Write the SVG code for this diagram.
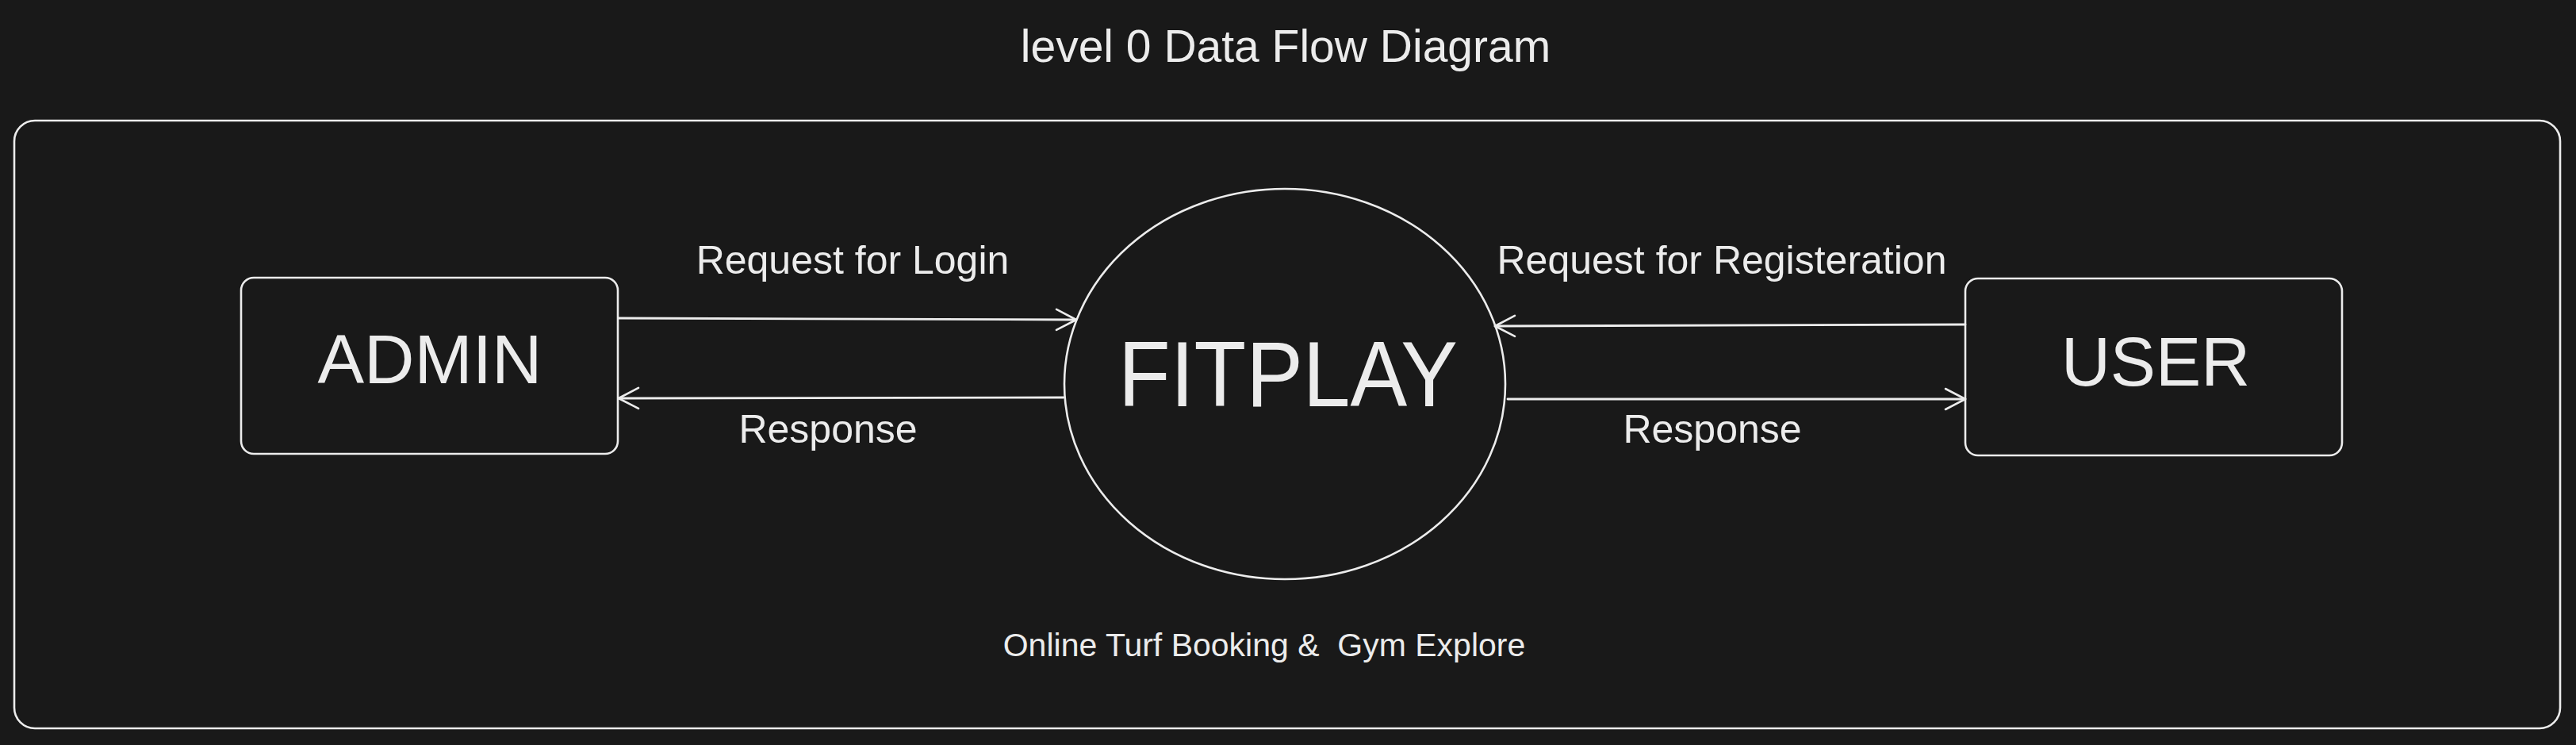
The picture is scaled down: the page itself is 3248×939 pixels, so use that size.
<svg xmlns="http://www.w3.org/2000/svg" width="3248" height="939" viewBox="0 0 3248 939">
<style>
.bg{fill:#191919}
.shape{fill:none;stroke:#ececec;stroke-width:2.6;stroke-linejoin:round;stroke-linecap:round}
.conn{fill:none;stroke:#ececec;stroke-width:2.8;stroke-linecap:round}
.t{fill:#ececec;font-family:"Liberation Sans",Arial,sans-serif;text-anchor:middle}
</style>
<defs>
<marker id="arr" markerUnits="userSpaceOnUse" markerWidth="32" markerHeight="32" refX="28" refY="16" orient="auto" overflow="visible">
<path d="M3,3 L28,16 L3,29" fill="none" stroke="#ececec" stroke-width="2.6" stroke-linecap="round" stroke-linejoin="round"/>
</marker>
</defs>
<rect class="bg" x="0" y="0" width="3248" height="939"/>
<g id="title">
<text class="t" x="1621" y="78" font-size="57">level 0 Data Flow Diagram</text>
</g>
<g id="frame">
<rect class="shape" x="18" y="152" width="3210" height="766" rx="26" ry="26" stroke-width="3"/>
</g>
<g id="admin">
<rect class="shape" x="304" y="350" width="475" height="222" rx="16" ry="16"/>
<text class="t" x="542" y="483" font-size="88" textLength="283" lengthAdjust="spacingAndGlyphs">ADMIN</text>
</g>
<g id="fitplay">
<ellipse class="shape" cx="1620" cy="484" rx="278" ry="246" stroke-width="2.2"/>
<text class="t" x="1624" y="512" font-size="116" textLength="428" lengthAdjust="spacingAndGlyphs">FITPLAY</text>
</g>
<g id="user">
<rect class="shape" x="2478" y="351" width="475" height="223" rx="16" ry="16"/>
<text class="t" x="2718" y="486" font-size="88" textLength="238" lengthAdjust="spacingAndGlyphs">USER</text>
</g>
<g id="connectors">
<path class="conn" d="M780,401 L1357,403" marker-end="url(#arr)"/>
<path class="conn" d="M1341,501 L780,502" marker-end="url(#arr)"/>
<path class="conn" d="M2478,409 L1885,411" marker-end="url(#arr)"/>
<path class="conn" d="M1901,503 L2478,503" marker-end="url(#arr)"/>
</g>
<g id="labels">
<text class="t" x="1075" y="345" font-size="50">Request for Login</text>
<text class="t" x="1044" y="558" font-size="50">Response</text>
<text class="t" x="2171" y="345" font-size="50">Request for Registeration</text>
<text class="t" x="2159" y="558" font-size="50">Response</text>
<text class="t" x="1594" y="827" font-size="41" xml:space="preserve">Online Turf Booking &amp;  Gym Explore</text>
</g>
</svg>
